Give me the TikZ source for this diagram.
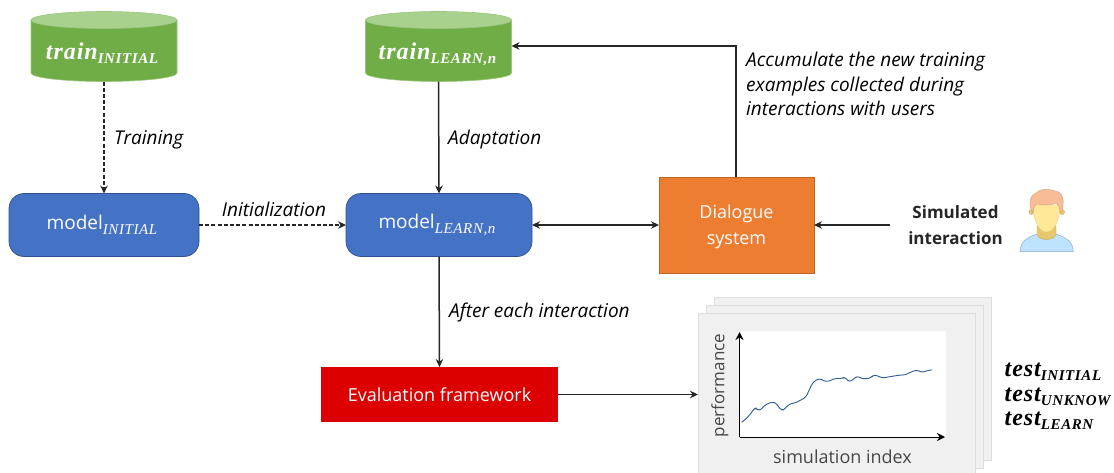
\documentclass[tikz,border=0pt]{standalone}
\usepackage{fontspec}
\setmainfont{Open Sans}
\newfontfamily\mathf[LetterSpace=4]{Liberation Serif}
\usetikzlibrary{shapes.geometric,arrows.meta}
\definecolor{tgreen}{HTML}{70AD47}
\definecolor{tgreenl}{HTML}{A9D18E}
\definecolor{tblue}{HTML}{4472C4}
\definecolor{tblued}{HTML}{2F528F}
\definecolor{torange}{HTML}{ED7D31}
\definecolor{tred}{HTML}{DC0000}
\definecolor{tgrey}{HTML}{F0F0F0}
\definecolor{tgreyl}{HTML}{DEDEDE}
\definecolor{tline}{HTML}{262626}
\definecolor{curve}{HTML}{2F5C97}
\definecolor{pshirt}{HTML}{BDE3FF}
\definecolor{pshirtd}{HTML}{8FAADC}
\definecolor{pneck}{HTML}{E6C76E}
\definecolor{pface}{HTML}{FFE998}
\definecolor{phair}{HTML}{F8BC96}
\newcommand{\bgm}[1]{{\fontsize{24}{24}\selectfont\mathf\bfseries\itshape #1}}
\newcommand{\smm}[1]{\raisebox{-4pt}{\fontsize{15}{15}\selectfont\mathf\bfseries\itshape #1}}
\newcommand{\mdl}[1]{{\fontsize{19}{19}\selectfont model}\raisebox{-4.5pt}{\fontsize{15}{15}\selectfont\mathf\itshape #1}\hspace*{4pt}}
\newcommand{\cylshape}[1]{%
  \filldraw[fill=tgreen,draw=tgreen!70!white,line width=.6pt]
    (#1-73,20) -- (#1-73,73) arc[start angle=180,end angle=0,x radius=73,y radius=8.5] -- (#1+73,20) -- cycle;
  \filldraw[fill=tgreenl,draw=tgreen!70!white,line width=.6pt] (#1,20) ellipse[x radius=73,y radius=8.5];
}
\tikzset{
  db/.style={minimum width=146pt,minimum height=70pt,text=white,inner sep=0pt,outer sep=0pt},
  model/.style={draw=tblued,line width=.7pt,fill=tblue,rounded corners=15pt,minimum height=63pt,text=white,inner sep=0pt,outer sep=0pt},
  arr/.style={draw=tline,line width=1.5pt,-{Stealth[length=8pt,width=7.5pt]}},
  dbl/.style={draw=tline,line width=1.5pt,{Stealth[length=8pt,width=7.5pt]}-{Stealth[length=8pt,width=7.5pt]}},
  dasharr/.style={arr,dash pattern=on 4pt off 2.2pt},
  lab/.style={font=\fontsize{19}{22}\selectfont\itshape,text=black,inner sep=0pt},
  sheet/.style={draw=tgreyl,line width=.8pt,fill=tgrey},
  txt/.style={font=\fontsize{18}{26}\selectfont,text=white,inner sep=0pt}
}
\begin{document}
\begin{tikzpicture}[x=1pt,y=-1pt]
\useasboundingbox (0,0) rectangle (1114,472);
\cylshape{104}
\cylshape{438.5}
\node[db] (t1) at (104,46.5) {\raisebox{-13pt}[20pt][20pt]{\bgm{train}\smm{INITIAL}\hspace*{4pt}}};
\node[db] (t2) at (438.5,46.5) {\raisebox{-13pt}[20pt][20pt]{\bgm{train}\smm{LEARN,n}\hspace*{2pt}}};
\node[model,minimum width=190pt] (m1) at (104,225) {\mdl{INITIAL}};
\node[model,minimum width=186pt] (m2) at (439,225) {\mdl{LEARN,n}};
\node[draw=torange!80!black,line width=.7pt,fill=torange,minimum width=155pt,minimum height=96pt,inner sep=0pt,outer sep=0pt,txt] (ds) at (736.5,225) {\raisebox{-6pt}[30pt][30pt]{\parbox{150pt}{\centering Dialogue\\system}}};
\node[fill=tred,minimum width=237pt,minimum height=55pt,inner sep=0pt,outer sep=0pt,txt] (ev) at (439.5,394.5) {Evaluation framework};

\node[inner sep=0pt,align=center,font=\fontsize{17}{26}\selectfont\bfseries,text=tline] (si) at (955.5,225) {Simulated\\interaction};
\coordinate (siw) at (890,225);
\coordinate (corner) at (736,46);
\coordinate (dstop) at (736,177);

\draw[dasharr] (t1.south) -- (m1.north);
\draw[dasharr] (m1.east) -- (m2.west);
\draw[arr] (t2.south) -- (m2.north);
\draw[dbl] (m2.east) -- (ds.west);
\draw[arr] (dstop) -- (corner) -- (t2.east |- corner);
\draw[arr] (siw) -- (ds.east);
\draw[arr] (m2.south) -- (ev.north);

\node[lab,anchor=west] (l1) at (114,139.5) {Training};
\node[lab,anchor=west] (l2) at (448,139.5) {Adaptation};
\node[lab,anchor=south] (l3) at (274,217) {Initialization};
\node[lab,anchor=west] (l4) at (449,313) {After each interaction};
\node[lab,anchor=north west,align=left,font=\fontsize{19}{24.5}\selectfont\itshape] (l5) at (746,52) {Accumulate the new training\\examples collected during\\interactions with users};

% sheets
\begin{scope}
\clip (690,290) rectangle (1000,472);
\draw[sheet] (714,297) rectangle (991,460);
\draw[sheet] (706,305) rectangle (983,468);
\draw[sheet] (698,313) rectangle (975,480);
\end{scope}
\coordinate (sh) at (698,395);
\draw[arr] (ev.east) -- (ev.east -| sh);
\fill[white] (740,331) rectangle (946,437);
\coordinate (org) at (739.5,437);
\coordinate (yend) at (739.5,332);
\coordinate (xend) at (945,437);
\draw[draw=black,line width=.9pt,-{Stealth[length=8pt,width=8pt]}] (org) -- (yend);
\draw[draw=black,line width=.9pt,-{Stealth[length=8pt,width=8pt]}] (org) -- (xend);
\draw[curve,line width=.9pt,line join=round,rounded corners=2.5pt]
 (741.7,422.3) -- (748,417) -- (754,409) -- (756,408) -- (759.3,411) -- (765,405) -- (771.7,402) -- (776,403) -- (781,410) -- (784,410) -- (787,406) -- (791,403.5) -- (795,403) -- (801,400) -- (806,397) -- (812,384) -- (815,380.5) -- (820,378.5) -- (825,381.5) -- (830,381) -- (834,378.5) -- (842,378.5) -- (845,377) -- (849,382) -- (854,379) -- (857,376) -- (863,379) -- (871,378) -- (873,375) -- (877,375.5) -- (882,378) -- (900,375) -- (905,375) -- (912,371.5) -- (917,370) -- (921,372) -- (924,372) -- (929,370) -- (932,370);
\node[inner sep=0pt,font=\fontsize{18}{18}\selectfont,text=tline!85!white] (xl) at (842.5,457) {simulation index};
\node[inner sep=0pt,font=\fontsize{17}{17}\selectfont,text=tline!85!white,rotate=90] (yl) at (720,385.5) {performance};

\node[inner sep=0pt,anchor=west,align=left] (k1) at (1004.5,371.5) {\bgm{test}\smm{INITIAL}};
\node[inner sep=0pt,anchor=west,align=left] (k2) at (1004.5,396.5) {\bgm{test}\smm{UNKNOW}};
\node[inner sep=0pt,anchor=west,align=left] (k3) at (1004.5,421) {\bgm{test}\smm{LEARN}};

% person
\filldraw[fill=pshirt,draw=pshirtd,line width=.5pt] (1020,251.7) .. controls (1020,240) and (1030,235) .. (1046.5,232) .. controls (1063,235) and (1073.3,240) .. (1073.3,251.7) -- cycle;
\filldraw[fill=pneck,draw=pneck!85!black,line width=.4pt] (1037,226) -- (1037,235) .. controls (1040,241) and (1053,241) .. (1056,235) -- (1056,226) -- cycle;
\filldraw[fill=pneck,draw=pneck!85!black,line width=.4pt] (1031.5,212) circle (2.5pt);
\filldraw[fill=pneck,draw=pneck!85!black,line width=.4pt] (1062,212) circle (2.5pt);
\filldraw[fill=pface,draw=pface!90!black,line width=.4pt] (1033,205) .. controls (1033,222) and (1040,232) .. (1046.5,232) .. controls (1053,232) and (1060,222) .. (1060,205) -- cycle;
\filldraw[fill=phair,draw=phair!85!black,line width=.4pt] (1033,213) .. controls (1028,206) and (1029,196) .. (1036,193) .. controls (1040,188) and (1050,189) .. (1055,191) .. controls (1060,191) and (1064,196) .. (1063,204) .. controls (1063,208) and (1062,210) .. (1060,213) .. controls (1060,206) and (1058,204) .. (1056,203) .. controls (1050,206) and (1040,205) .. (1037,204) .. controls (1034,206) and (1033,209) .. (1033,213) -- cycle;
\end{tikzpicture}
\end{document}
